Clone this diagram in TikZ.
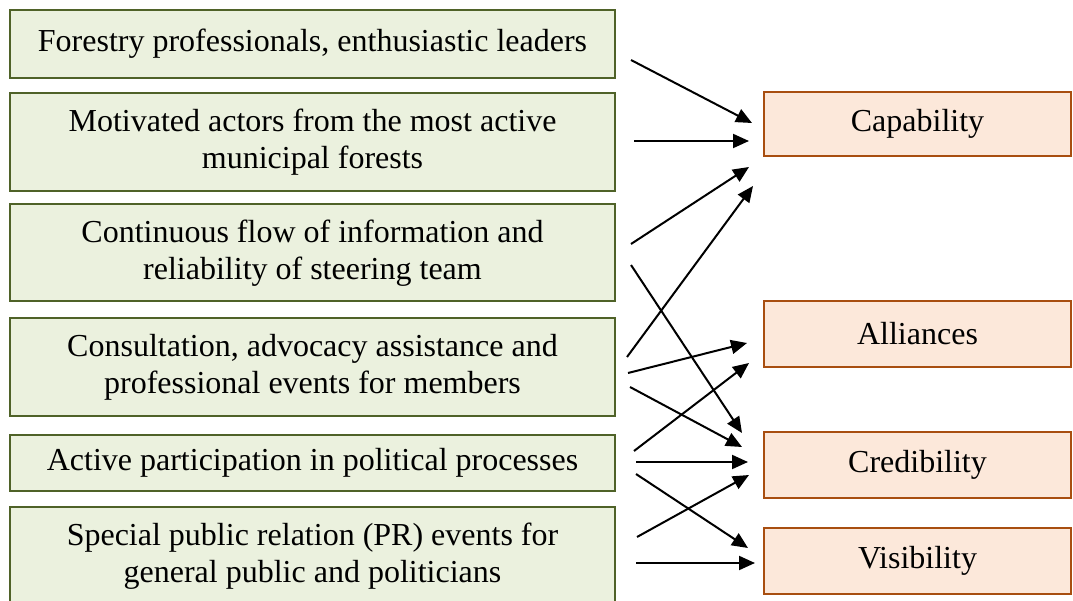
\documentclass[tikz,border=0pt]{standalone}
\usepackage{fontspec}
\setmainfont{Liberation Serif}
\usetikzlibrary{calc,arrows.meta}
\definecolor{factorFill}{RGB}{235,241,222}
\definecolor{factorLine}{RGB}{79,98,40}
\definecolor{outcomeFill}{RGB}{252,232,218}
\definecolor{outcomeLine}{RGB}{168,78,16}
\tikzstyle{pixels} = [x = 1pt, y = -1pt]
\tikzstyle{factorBox} = [draw=factorLine, fill=factorFill, line width=2pt, minimum width=605pt, align=center, font=\fontsize{32}{37}\selectfont, inner sep=0pt]
\tikzstyle{outcomeBox} = [draw=outcomeLine, fill=outcomeFill, line width=2pt, minimum width=307pt, minimum height=65pt, font=\fontsize{32}{37}\selectfont, inner sep=0pt]
\tikzstyle{link} = [line width=2pt, -{Triangle[length=16pt, width=14pt]}]

\begin{document}
\begin{tikzpicture}[pixels]
  \useasboundingbox (0,0) rectangle (1073,601);
  % factors on the left
  \node [factorBox, minimum height=68pt] (f1) at (312.5,44) {Forestry professionals, enthusiastic leaders};
  \node [factorBox, minimum height=98pt] (f2) at (312.5,142) {Motivated actors from the most active\\municipal forests};
  \node [factorBox, minimum height=97pt] (f3) at (312.5,253) {Continuous flow of information and\\reliability of steering team};
  \node [factorBox, minimum height=98pt] (f4) at (312.5,367) {Consultation, advocacy assistance and\\professional events for members};
  \node [factorBox, minimum height=56pt] (f5) at (312.5,463) {Active participation in political processes};
  \node [factorBox, minimum height=98pt] (f6) at (312.5,556) {Special public relation (PR) events for\\general public and politicians};

  % outcomes on the right
  \node [outcomeBox, minimum height=64pt] (cap) at (917.5,124) {Capability};
  \node [outcomeBox, minimum height=66pt] (all) at (917.5,334) {Alliances};
  \node [outcomeBox, minimum height=66pt] (cred) at (917.5,465) {Credibility};
  \node [outcomeBox, minimum height=66pt] (vis) at (917.5,561) {Visibility};

  % links: source/offset/target/offset
  \foreach \src/\sx/\sy/\dst/\dx/\dy in {
      f1/15/16/cap/-11/-1,
      f2/18/-1/cap/-14/17,
      f3/15/-9/cap/-14/43,
      f4/11/-10/cap/-10/62,
      f3/15/12/cred/-21/-32,
      f4/12/6/all/-16/9,
      f4/14/20/cred/-21/-18,
      f5/18/-12/all/-14/29,
      f5/20/-1/cred/-15/-3,
      f5/20/11/vis/-15/-13,
      f6/21/-19/cred/-14/10,
      f6/20/7/vis/-8/2} {
    \draw [link] ($(\src.east)+(\sx,\sy)$) -- ($(\dst.west)+(\dx,\dy)$);
  }
\end{tikzpicture}
\end{document}
